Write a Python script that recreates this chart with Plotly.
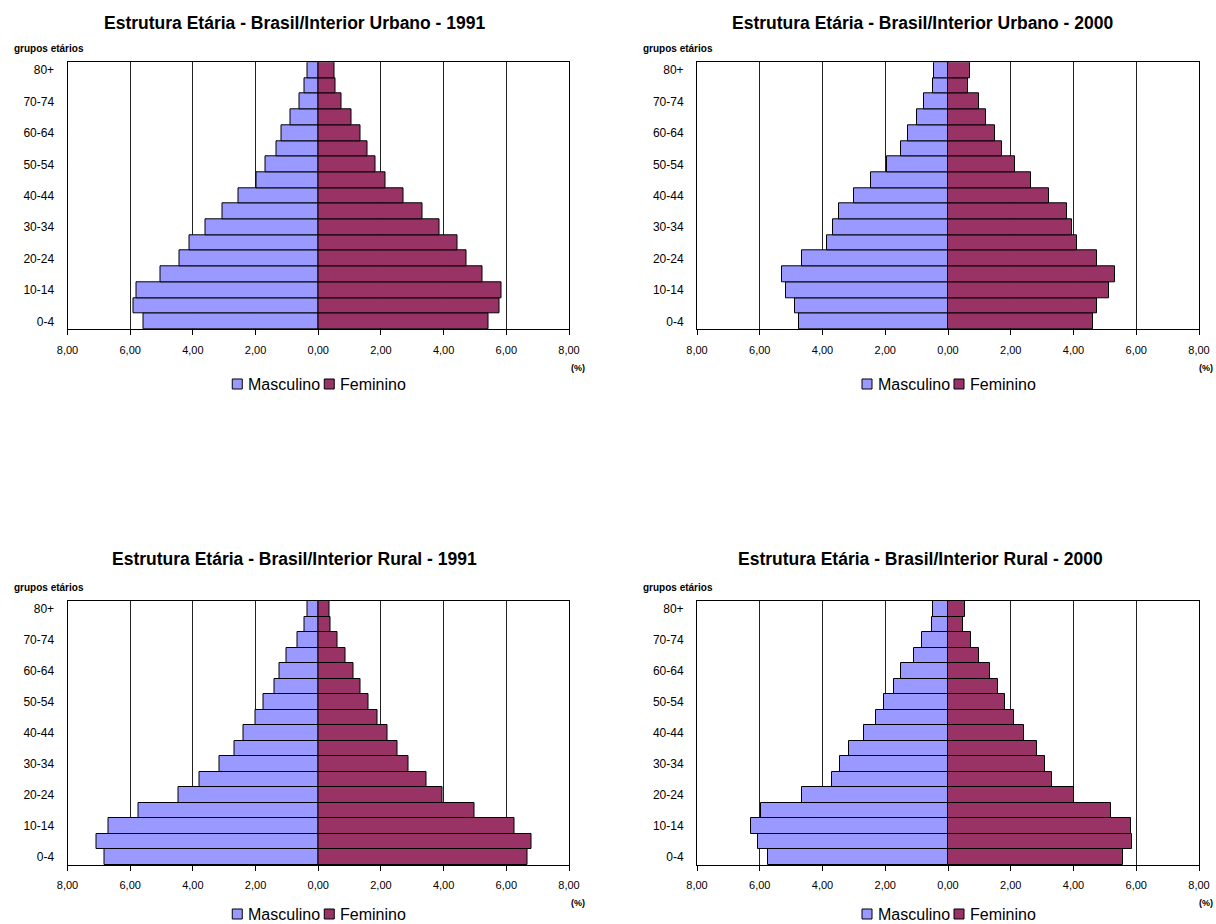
import plotly.graph_objects as go

categories = ["0-4", "5-9", "10-14", "15-19", "20-24", "25-29", "30-34", "35-39",
              "40-44", "45-49", "50-54", "55-59", "60-64", "65-69", "70-74", "75-79", "80+"]
shown_labels = ["0-4", "10-14", "20-24", "30-34", "40-44", "50-54", "60-64", "70-74", "80+"]
x_ticks = [-8, -6, -4, -2, 0, 2, 4, 6, 8]
x_tick_labels = ["8,00", "6,00", "4,00", "2,00", "0,00", "2,00", "4,00", "6,00", "8,00"]
series_names = ["Masculino", "Feminino"]

titles = ["Estrutura Etária - Brasil/Interior Urbano - 1991",
          "Estrutura Etária - Brasil/Interior Urbano - 2000",
          "Estrutura Etária - Brasil/Interior Rural - 1991",
          "Estrutura Etária - Brasil/Interior Rural - 2000"]

urbano_1991_masc = [5.57, 5.88, 5.79, 5.02, 4.43, 4.10, 3.60, 3.06, 2.55, 1.98, 1.68, 1.34, 1.16, 0.90, 0.61, 0.43, 0.33]
urbano_1991_fem = [5.42, 5.79, 5.84, 5.24, 4.72, 4.44, 3.88, 3.32, 2.72, 2.16, 1.84, 1.58, 1.35, 1.07, 0.75, 0.56, 0.52]
urbano_2000_masc = [4.75, 4.88, 5.17, 5.30, 4.64, 3.86, 3.68, 3.48, 3.00, 2.44, 1.96, 1.51, 1.27, 1.00, 0.77, 0.49, 0.46]
urbano_2000_fem = [4.62, 4.76, 5.12, 5.33, 4.74, 4.10, 3.94, 3.78, 3.21, 2.63, 2.15, 1.72, 1.51, 1.22, 0.98, 0.63, 0.69]
rural_1991_masc = [6.82, 7.06, 6.70, 5.73, 4.46, 3.78, 3.15, 2.66, 2.38, 1.99, 1.74, 1.41, 1.23, 1.00, 0.67, 0.43, 0.33]
rural_1991_fem = [6.66, 6.81, 6.27, 4.98, 3.96, 3.45, 2.89, 2.53, 2.21, 1.90, 1.60, 1.35, 1.11, 0.88, 0.61, 0.40, 0.36]
rural_2000_masc = [5.75, 6.06, 6.28, 5.95, 4.64, 3.70, 3.43, 3.16, 2.67, 2.31, 2.04, 1.73, 1.49, 1.09, 0.84, 0.52, 0.49]
rural_2000_fem = [5.59, 5.85, 5.83, 5.20, 4.00, 3.30, 3.10, 2.83, 2.41, 2.10, 1.83, 1.60, 1.33, 0.98, 0.73, 0.49, 0.54]

panels = [(urbano_1991_masc, urbano_1991_fem),
          (urbano_2000_masc, urbano_2000_fem),
          (rural_1991_masc, rural_1991_fem),
          (rural_2000_masc, rural_2000_fem)]

W, H = 1216, 924
FONT = "Liberation Sans, Arial, sans-serif"
COLORS = ["#9999FF", "#993366"]

# plot area boxes in pixels: (left, right, top, bottom)
boxes = [(67.5, 569, 62.3, 329.3), (697, 1199, 62.3, 329.3),
         (67.5, 569, 601, 865), (697, 1199, 601, 865)]
title_pos = [(294, 22.7), (922, 22.7), (294, 559), (920, 559)]
grupos_pos = [(12, 48), (641, 48), (12, 587), (641, 587)]
pct_pos = [(587, 368), (1215, 368), (587, 903), (1215, 903)]
legend_y = [384, 384, 914, 914]
# legend item offsets relative to plot centre: (square left, text left)
legend_offsets = [(-86, -72.5), (6, 20)]

fig = go.Figure()
annotations = []
shapes = []


def px_x(v):
    return v / W


def px_y(v):
    return 1 - v / H


for i, ((masc, fem), box) in enumerate(zip(panels, boxes)):
    n = "" if i == 0 else str(i + 1)
    xa, ya = "x" + n, "y" + n
    fig.add_trace(go.Bar(y=categories, x=[-v for v in masc], orientation="h", name=series_names[0],
                         marker=dict(color=COLORS[0], line=dict(color="black", width=1)),
                         xaxis=xa, yaxis=ya, showlegend=False))
    fig.add_trace(go.Bar(y=categories, x=fem, orientation="h", name=series_names[1],
                         marker=dict(color=COLORS[1], line=dict(color="black", width=1)),
                         xaxis=xa, yaxis=ya, showlegend=False))
    l, r, t, b = box
    fig.layout["xaxis" + n] = dict(
        domain=[px_x(l), px_x(r)], anchor=ya, range=[-8, 8], tickvals=x_ticks, ticktext=x_tick_labels,
        showgrid=True, gridcolor="#222222", gridwidth=1, zeroline=False,
        showline=True, linecolor="black", linewidth=1, mirror=True,
        ticks="outside", ticklen=5, tickcolor="black", ticklabelstandoff=5,
        tickfont=dict(family=FONT, size=11, color="black"), fixedrange=True)
    fig.layout["yaxis" + n] = dict(
        domain=[px_y(b), px_y(t)], anchor=xa, type="category",
        categoryorder="array", categoryarray=categories,
        tickvals=shown_labels, ticktext=shown_labels, showgrid=False,
        showline=True, linecolor="black", linewidth=1, mirror=True,
        ticks="", ticklabelstandoff=10, range=[-0.5, 16.5],
        tickfont=dict(family=FONT, size=12, color="black"), fixedrange=True)

    # legend (drawn as paper-positioned squares + text)
    c = (l + r) / 2
    ly = legend_y[i]
    for k in range(2):
        sq_off, tx_off = legend_offsets[k]
        shapes.append(dict(type="rect", xref="paper", yref="paper",
                           x0=px_x(c + sq_off), x1=px_x(c + sq_off + 10),
                           y0=px_y(ly + 5), y1=px_y(ly - 5),
                           fillcolor=COLORS[k], line=dict(color="black", width=1)))
        annotations.append(dict(text=series_names[k], x=px_x(c + tx_off), y=px_y(ly + 0.5),
                                xref="paper", yref="paper", xanchor="left", yanchor="middle",
                                showarrow=False, font=dict(family=FONT, size=16, color="black")))

    tx, ty = title_pos[i]
    annotations.append(dict(text="<b>" + titles[i] + "</b>", x=px_x(tx), y=px_y(ty), xref="paper", yref="paper",
                            xanchor="center", yanchor="middle", showarrow=False,
                            font=dict(family=FONT, size=17.5, color="black")))
    gx, gy = grupos_pos[i]
    annotations.append(dict(text="<b>grupos etários</b>", x=px_x(gx), y=px_y(gy), xref="paper", yref="paper",
                            xanchor="left", yanchor="middle", showarrow=False,
                            font=dict(family=FONT, size=10, color="black")))
    pxx, pyy = pct_pos[i]
    annotations.append(dict(text="<b>(%)</b>", x=px_x(pxx), y=px_y(pyy), xref="paper", yref="paper",
                            xanchor="right", yanchor="middle", showarrow=False,
                            font=dict(family=FONT, size=9, color="black")))

fig.update_layout(width=W, height=H, margin=dict(l=0, r=0, t=0, b=0, pad=0, autoexpand=False),
                  paper_bgcolor="white", plot_bgcolor="white",
                  barmode="relative", bargap=0, annotations=annotations, shapes=shapes,
                  showlegend=False)

fig.write_html("out.html", config={"displayModeBar": False})
